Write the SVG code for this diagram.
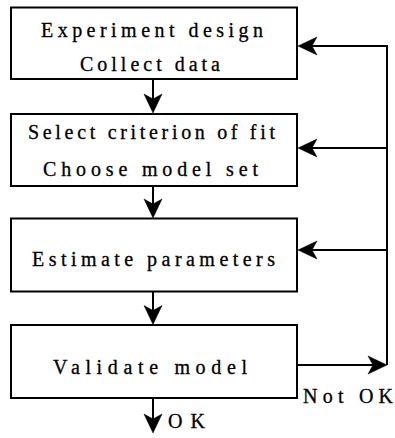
<svg xmlns="http://www.w3.org/2000/svg" width="395" height="438" viewBox="0 0 395 438">
<style>
.box{fill:#fff;stroke:#000;stroke-width:2}
.pl{fill:none;stroke:#000;stroke-width:2}
.ah{fill:#000;stroke:#000;stroke-width:0.5}
.t{font-family:"Liberation Serif","Times New Roman",serif;font-size:20px;fill:#000;stroke:#000;stroke-width:0.3}
</style>
<g id="n1">
<rect class="box" x="11" y="7.5" width="286" height="71.5"/>
<text class="t" x="41" y="37" textLength="222" lengthAdjust="spacing">Experiment design</text>
<text class="t" x="80" y="71" textLength="140" lengthAdjust="spacing">Collect data</text>
</g>
<g id="n2">
<rect class="box" x="11" y="114" width="286" height="72"/>
<text class="t" x="28" y="139" textLength="247" lengthAdjust="spacing">Select criterion of fit</text>
<text class="t" x="43" y="176" textLength="215" lengthAdjust="spacing">Choose model set</text>
</g>
<g id="n3">
<rect class="box" x="11" y="218.5" width="286" height="73"/>
<text class="t" x="32" y="266" textLength="243" lengthAdjust="spacing">Estimate parameters</text>
</g>
<g id="n4">
<rect class="box" x="11" y="325" width="286" height="73"/>
<text class="t" x="53" y="374" textLength="194" lengthAdjust="spacing">Validate model</text>
</g>
<g id="connectors">
<path class="pl" d="M153,79 V108"/>
<path class="ah" d="M153,113 l-9,-19 l9,5 l9,-5 Z"/>
<path class="pl" d="M153,186 V212.5"/>
<path class="ah" d="M153,218 l-9,-19 l9,5 l9,-5 Z"/>
<path class="pl" d="M153,291.5 V319"/>
<path class="ah" d="M153,324.5 l-9,-19 l9,5 l9,-5 Z"/>
<path class="pl" d="M153,398 V427"/>
<path class="ah" d="M153,433 l-9,-19 l9,5 l9,-5 Z"/>
<path class="pl" d="M297,365 H381"/>
<path class="ah" d="M387,365 l-19,-9 l5,9 l-5,9 Z"/>
<path class="pl" d="M387,365 V46"/>
<path class="pl" d="M388,46 H303"/>
<path class="ah" d="M298,46 l19,-9 l-5,9 l5,9 Z"/>
<path class="pl" d="M388,148 H303"/>
<path class="ah" d="M298,148 l19,-9 l-5,9 l5,9 Z"/>
<path class="pl" d="M388,250 H303"/>
<path class="ah" d="M298,250 l19,-9 l-5,9 l5,9 Z"/>
<text class="t" x="303" y="403" textLength="90" lengthAdjust="spacing">Not OK</text>
<text class="t" x="168" y="428" textLength="37" lengthAdjust="spacing">OK</text>
</g>
</svg>
